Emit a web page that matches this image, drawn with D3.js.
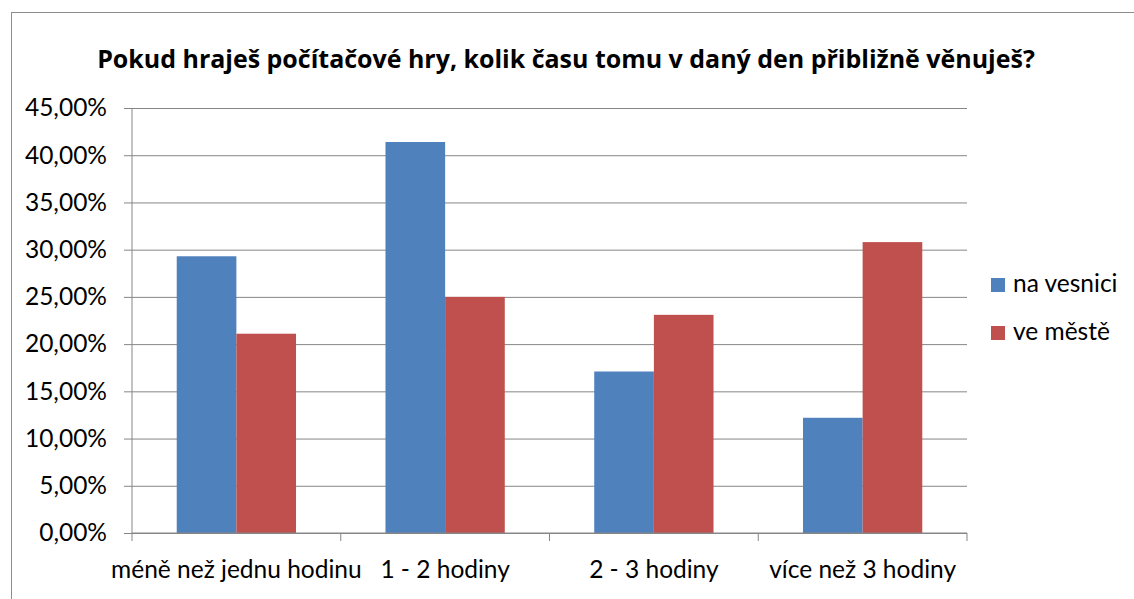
<!DOCTYPE html>
<html>
<head>
<meta charset="utf-8">
<script src="https://cdn.jsdelivr.net/npm/d3@7"></script>
<style>
  body { margin: 0; background: #fff; }
  svg { display: block; font-family: "Lato", "Open Sans", sans-serif; }
</style>
</head>
<body>
<div id="chart"></div>
<script>
const WIDTH = 1134;
const HEIGHT = 599;

const titleText = "Pokud hraješ počítačové hry, kolik času tomu v daný den přibližně věnuješ?";
const categories = ["méně než jednu hodinu", "1 - 2 hodiny", "2 - 3 hodiny", "více než 3 hodiny"];
const seriesNames = ["na vesnici", "ve městě"];
const seriesColors = ["#4F81BD", "#C0504D"];
const villageValues = [0.293, 0.414, 0.171, 0.122];
const cityValues = [0.211, 0.250, 0.231, 0.308];
const yTicks = [0, 0.05, 0.10, 0.15, 0.20, 0.25, 0.30, 0.35, 0.40, 0.45];

const plot = { left: 132, right: 967, top: 108, bottom: 533 };
const FONT_SIZE = 24.5;

const locale = d3.formatLocale({ decimal: ",", thousands: " ", grouping: [3], currency: ["", " Kč"] });
const pct = locale.format(".2%");

const svg = d3.select("#chart")
  .append("svg")
  .attr("width", WIDTH)
  .attr("height", HEIGHT);

// chart frame (right and bottom edges run off the picture)
svg.append("rect")
  .attr("x", 11.5)
  .attr("y", 12.5)
  .attr("width", WIDTH + 20)
  .attr("height", HEIGHT + 20)
  .attr("fill", "none")
  .attr("stroke", "#8c8c8c")
  .attr("stroke-width", 1);

const title = svg.append("text")
  .attr("x", 566)
  .attr("y", 68)
  .attr("text-anchor", "middle")
  .attr("font-family", "'Open Sans', sans-serif")
  .attr("font-weight", "bold")
  .attr("font-size", 22)
  .attr("fill", "#000")
  .text(titleText);

// fit title to the width it takes in the original
const titleLen = title.node().getComputedTextLength();
title.attr("font-size", 22 * 938 / titleLen);

const y = d3.scaleLinear().domain([0, 0.45]).range([plot.bottom, plot.top]);

const x0 = d3.scaleBand()
  .domain(categories)
  .range([plot.left, plot.right])
  .paddingInner(1.5 / 3.5)
  .paddingOuter(0.75 / 3.5);

const x1 = d3.scaleBand()
  .domain(seriesNames)
  .range([0, x0.bandwidth()]);

// gridlines + y labels
const yAxis = d3.axisLeft(y)
  .tickValues(yTicks)
  .tickSize(0)
  .tickPadding(17)
  .tickFormat(pct);

const yG = svg.append("g")
  .attr("transform", `translate(${plot.left - 8},0)`)
  .call(yAxis);
yG.select(".domain").remove();
yG.selectAll(".tick line")
  .attr("stroke", "#868686")
  .attr("x1", 0)
  .attr("x2", plot.right - plot.left + 8);
yG.selectAll(".tick text")
  .attr("font-size", FONT_SIZE)
  .attr("font-family", "Lato, sans-serif")
  .attr("fill", "#000")
  .attr("x", -17);

// bars
const rows = categories.map((c, i) => ({ category: c, values: [villageValues[i], cityValues[i]] }));

svg.append("g")
  .selectAll("g")
  .data(rows)
  .join("g")
  .attr("transform", (d) => `translate(${x0(d.category)},0)`)
  .selectAll("rect")
  .data((d) => d.values.map((v, k) => ({ name: seriesNames[k], value: v, color: seriesColors[k] })))
  .join("rect")
  .attr("x", (d) => x1(d.name))
  .attr("y", (d) => y(d.value))
  .attr("width", x1.bandwidth())
  .attr("height", (d) => y(0) - y(d.value))
  .attr("fill", (d) => d.color);

// axis lines
svg.append("line")
  .attr("x1", plot.left).attr("x2", plot.left)
  .attr("y1", plot.top).attr("y2", plot.bottom)
  .attr("stroke", "#868686");

const step = x0.step();
const boundaries = d3.range(categories.length + 1).map((i) => plot.left + i * step);

svg.append("line")
  .attr("x1", plot.left).attr("x2", plot.right)
  .attr("y1", plot.bottom).attr("y2", plot.bottom)
  .attr("stroke", "#868686");

svg.append("g")
  .selectAll("line")
  .data(boundaries)
  .join("line")
  .attr("x1", (d) => d).attr("x2", (d) => d)
  .attr("y1", plot.bottom).attr("y2", plot.bottom + 8)
  .attr("stroke", "#868686");

// category labels
svg.append("g")
  .selectAll("text")
  .data(categories)
  .join("text")
  .attr("x", (d) => x0(d) + x0.bandwidth() / 2)
  .attr("y", 578)
  .attr("text-anchor", "middle")
  .attr("font-size", FONT_SIZE)
  .attr("fill", "#000")
  .text((d) => d);

// legend
const legend = svg.append("g")
  .selectAll("g")
  .data(seriesNames)
  .join("g")
  .attr("transform", (d, i) => `translate(991,${278 + i * 48})`);

legend.append("rect")
  .attr("width", 14)
  .attr("height", 14)
  .attr("fill", (d, i) => seriesColors[i]);

legend.append("text")
  .attr("x", 22)
  .attr("y", 14)
  .attr("font-size", FONT_SIZE)
  .attr("fill", "#000")
  .text((d) => d);
</script>
</body>
</html>
